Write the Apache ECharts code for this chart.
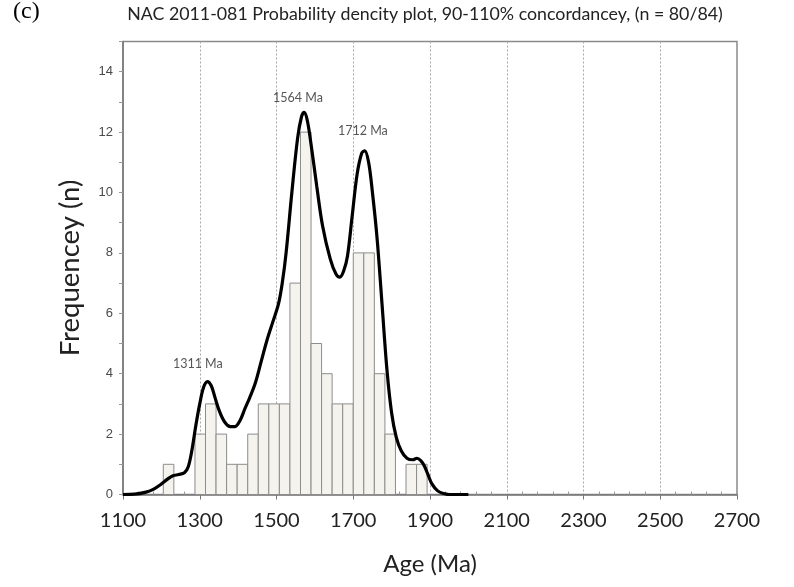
<!DOCTYPE html>
<html>
<head>
<meta charset="utf-8">
<script src="https://cdn.jsdelivr.net/npm/echarts@6/dist/echarts.min.js"></script>
<style>
  html, body { margin: 0; padding: 0; background: #ffffff; }
  #chart { width: 794px; height: 587px; }
</style>
</head>
<body>
<div id="chart"></div>
<script>
// Histogram bins (Ma): left edge of each bin and the zircon count in it
const binWidth = 27.5;
const binStart = [1205, 1232.5, 1260, 1287.5, 1315, 1342.5, 1370, 1397.5, 1425, 1452.5,
                  1480, 1507.5, 1535, 1562.5, 1590, 1617.5, 1645, 1672.5, 1700, 1727.5,
                  1755, 1782.5, 1810, 1837.5, 1865];
const binCount = [1, 0, 0, 2, 3, 2, 1, 1, 2, 3,
                  3, 3, 7, 12, 5, 4, 3, 3, 8, 8,
                  4, 2, 0, 1, 1];

// Probability density curve, scaled to frequency
const pdAge = [1100, 1130, 1160, 1180, 1200, 1215, 1230, 1245, 1260, 1270,
               1280, 1290, 1300, 1310, 1320, 1330, 1340, 1350, 1365, 1380,
               1392, 1405, 1418, 1430, 1445, 1460, 1475, 1490, 1505, 1515,
               1525, 1540, 1555, 1565, 1572, 1580, 1590, 1605, 1620, 1640,
               1655, 1665, 1675, 1685, 1697, 1710, 1722, 1730, 1740, 1750,
               1762, 1775, 1788, 1800, 1812, 1825, 1840, 1855, 1866, 1876,
               1885, 1895, 1905, 1920, 1935, 1950, 2000];
const pdFreq = [0, 0.01, 0.08, 0.18, 0.35, 0.5, 0.62, 0.66, 0.72, 0.92,
                1.5, 2.3, 3.0, 3.55, 3.74, 3.6, 3.2, 2.8, 2.4, 2.25,
                2.25, 2.45, 2.85, 3.2, 3.7, 4.4, 5.1, 5.7, 6.3, 7.0,
                8.0, 10.0, 11.8, 12.5, 12.65, 12.4, 11.6, 10.2, 8.9, 7.8,
                7.3, 7.2, 7.4, 7.9, 9.2, 10.6, 11.3, 11.38, 11.0, 10.0,
                8.5, 6.3, 4.1, 2.7, 1.9, 1.45, 1.2, 1.15, 1.2, 1.12,
                0.95, 0.65, 0.35, 0.12, 0.03, 0, 0];

// Peak annotations: text and its anchor (age, frequency)
const peakText = ['1311 Ma', '1564 Ma', '1712 Ma'];
const peakAnchor = [[1295, 4.33], [1556, 13.13], [1725, 12.04]];

const yTicks = [0, 2, 4, 6, 8, 10, 12, 14];

const sans = 'Lato, "Open Sans", sans-serif';

const chart = echarts.init(document.getElementById('chart'), null, { renderer: 'canvas' });

const histData = binStart.map((s, i) => [s, s + binWidth, binCount[i]]);
const curveData = pdAge.map((a, i) => [a, pdFreq[i]]);
const peakData = peakText.map((t, i) => ({ name: t, value: peakAnchor[i] }));

chart.setOption({
  animation: false,
  backgroundColor: '#ffffff',
  graphic: [
    {
      type: 'text', left: 13, top: 0,
      style: { text: '(c)', font: '24px "Liberation Serif", "Times New Roman", serif', fill: '#000' }
    },
    {
      type: 'text', x: 425, y: 14,
      style: {
        text: 'NAC 2011-081 Probability dencity plot, 90-110% concordancey, (n = 80/84)',
        font: '17.8px ' + sans, fill: '#222', textAlign: 'center', textVerticalAlign: 'middle'
      }
    }
  ],
  grid: {
    left: 123, right: 57, top: 41.5, bottom: 92.5,
    show: true, borderColor: '#8a8a8a', borderWidth: 1.5, backgroundColor: 'transparent'
  },
  xAxis: [
    {
      type: 'value', min: 1100, max: 2700, interval: 200, position: 'bottom',
      axisLine: { show: true, onZero: false, lineStyle: { color: '#777', width: 1.5 } },
      axisTick: { show: true, length: 5, lineStyle: { color: '#777' } },
      axisLabel: { fontFamily: sans, fontSize: 20, color: '#222', margin: 16, formatter: v => String(v) },
      splitLine: { show: true, showMinLine: false, showMaxLine: false,
                   lineStyle: { color: '#a8a8a8', type: [2, 2], width: 1 } },
      name: 'Age (Ma)', nameLocation: 'middle', nameGap: 58,
      nameTextStyle: { fontFamily: sans, fontSize: 24, color: '#222' }
    },
    {
      type: 'value', min: 1100, max: 2700, interval: 200, position: 'bottom',
      axisLine: { show: false },
      axisLabel: { show: false },
      axisTick: { show: true, inside: true, length: 0 },
      minorTick: { show: true, splitNumber: 5, length: 3, lineStyle: { color: '#999' } },
      splitLine: { show: false }
    }
  ],
  yAxis: {
    type: 'value', min: 0, max: 15, interval: 1,
    axisLine: { show: true, lineStyle: { color: '#777', width: 1.5 } },
    axisTick: { show: true, length: 4, lineStyle: { color: '#999' } },
    axisLabel: {
      fontFamily: '"Liberation Sans", Arial, sans-serif', fontSize: 13, color: '#4a4a4a', margin: 10,
      formatter: v => (yTicks.indexOf(v) >= 0 ? String(v) : '')
    },
    splitLine: { show: false },
    name: 'Frequencey (n)', nameLocation: 'middle', nameGap: 39, nameRotate: 90,
    nameTextStyle: { fontFamily: sans, fontSize: 27.5, color: '#222' }
  },
  series: [
    {
      type: 'custom',
      data: histData,
      encode: { x: [0, 1], y: 2 },
      z: 2,
      renderItem: (params, api) => {
        const v = api.value(2);
        if (!v) return null;
        const top = api.coord([api.value(0), v]);
        const base = api.coord([api.value(1), 0]);
        return {
          type: 'rect',
          shape: { x: top[0], y: top[1], width: base[0] - top[0], height: base[1] - top[1] },
          style: { fill: '#f4f3ee', stroke: '#8c8c8c', lineWidth: 1 }
        };
      }
    },
    {
      type: 'line',
      data: curveData,
      smooth: 0.35,
      symbol: 'none',
      z: 4,
      lineStyle: { color: '#000', width: 3.2 }
    },
    {
      type: 'scatter',
      data: peakData,
      symbolSize: 0,
      z: 5,
      label: {
        show: true, position: 'inside', formatter: p => p.name,
        fontFamily: sans, fontSize: 12.5, color: '#2a2a2a'
      }
    }
  ]
});
</script>
</body>
</html>
